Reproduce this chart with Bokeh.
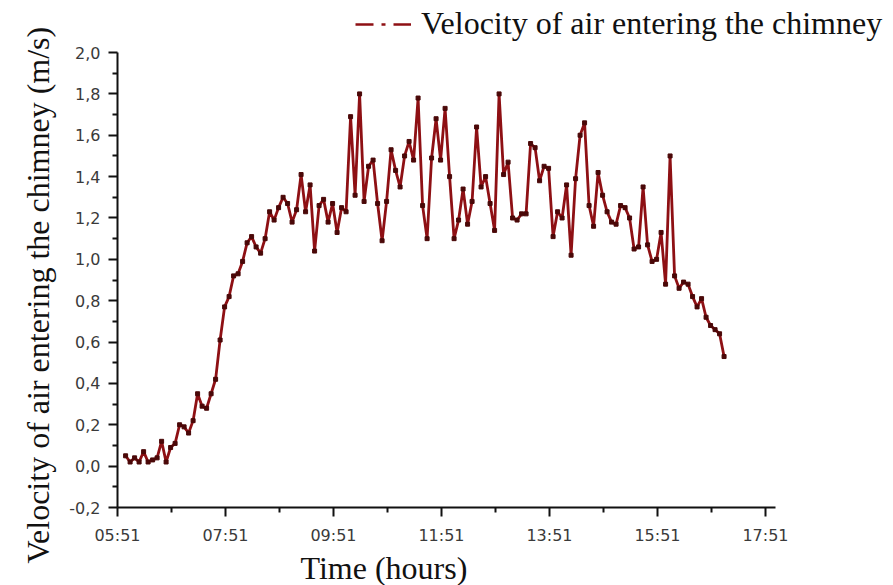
from bokeh.plotting import figure
from bokeh.models import (FixedTicker, CustomJSTickFormatter, Range1d, Legend,
                          LegendItem, Title)
from bokeh.embed import file_html
from bokeh.resources import INLINE

# ---------------- data ----------------
times = [
    "06:00", "06:05", "06:10", "06:15", "06:20", "06:25", "06:30", "06:35", "06:40", "06:45", "06:50", "06:55",
    "07:00", "07:05", "07:10", "07:15", "07:20", "07:25", "07:30", "07:35", "07:40", "07:45", "07:50", "07:55",
    "08:00", "08:05", "08:10", "08:15", "08:20", "08:25", "08:30", "08:35", "08:40", "08:45", "08:50", "08:55",
    "09:00", "09:05", "09:10", "09:15", "09:20", "09:25", "09:30", "09:35", "09:40", "09:45", "09:50", "09:55",
    "10:00", "10:05", "10:10", "10:15", "10:20", "10:25", "10:30", "10:35", "10:40", "10:45", "10:50", "10:55",
    "11:00", "11:05", "11:10", "11:15", "11:20", "11:25", "11:30", "11:35", "11:40", "11:45", "11:50", "11:55",
    "12:00", "12:05", "12:10", "12:15", "12:20", "12:25", "12:30", "12:35", "12:40", "12:45", "12:50", "12:55",
    "13:00", "13:05", "13:10", "13:15", "13:20", "13:25", "13:30", "13:35", "13:40", "13:45", "13:50", "13:55",
    "14:00", "14:05", "14:10", "14:15", "14:20", "14:25", "14:30", "14:35", "14:40", "14:45", "14:50", "14:55",
    "15:00", "15:05", "15:10", "15:15", "15:20", "15:25", "15:30", "15:35", "15:40", "15:45", "15:50", "15:55",
    "16:00", "16:05", "16:10", "16:15", "16:20", "16:25", "16:30", "16:35", "16:40", "16:45", "16:50", "16:55",
    "17:00", "17:05",
]

velocity = [
    0.05, 0.02, 0.04, 0.02, 0.07, 0.02, 0.03, 0.04, 0.12, 0.02, 0.09, 0.11,
    0.20, 0.19, 0.16, 0.22, 0.35, 0.29, 0.28, 0.35, 0.42, 0.61, 0.77, 0.82,
    0.92, 0.93, 0.99, 1.08, 1.11, 1.06, 1.03, 1.10, 1.23, 1.19, 1.25, 1.30,
    1.27, 1.18, 1.24, 1.41, 1.23, 1.36, 1.04, 1.26, 1.29, 1.18, 1.27, 1.13,
    1.25, 1.23, 1.69, 1.31, 1.80, 1.28, 1.45, 1.48, 1.27, 1.09, 1.28, 1.53,
    1.43, 1.35, 1.50, 1.57, 1.48, 1.78, 1.26, 1.10, 1.49, 1.68, 1.48, 1.73,
    1.40, 1.10, 1.19, 1.34, 1.17, 1.28, 1.64, 1.35, 1.40, 1.27, 1.14, 1.80,
    1.41, 1.47, 1.20, 1.19, 1.22, 1.22, 1.56, 1.54, 1.38, 1.45, 1.44, 1.11,
    1.23, 1.20, 1.36, 1.02, 1.39, 1.60, 1.66, 1.26, 1.16, 1.42, 1.31, 1.23,
    1.18, 1.17, 1.26, 1.25, 1.20, 1.05, 1.06, 1.35, 1.07, 0.99, 1.00, 1.13,
    0.88, 1.50, 0.92, 0.86, 0.89, 0.88, 0.82, 0.77, 0.81, 0.72, 0.68, 0.66,
    0.64, 0.53,
]

x_tick_labels = ["05:51", "07:51", "09:51", "11:51", "13:51", "15:51", "17:51"]
y_ticks = [-0.2, 0.0, 0.2, 0.4, 0.6, 0.8, 1.0, 1.2, 1.4, 1.6, 1.8, 2.0]

series_name = "Velocity of air entering the chimney"
y_title = "Velocity of air entering the chimney (m/s)"
x_title = "Time (hours)"


def to_min(s):
    h, m = s.split(":")
    return int(h) * 60 + int(m)


xs = [to_min(t) for t in times]
x_ticks = [to_min(t) for t in x_tick_labels]
x_minor = [t + 60 for t in x_ticks[:-1]]
y_minor = [round(v + 0.1, 1) for v in y_ticks[:-1]]

LINE = "#8E1014"
MARK = "#4A0808"

# The frame is extended over the top and right margins so that the legend
# (which sits above / right of the axes in the reference) is not clipped;
# axis lines are bounded to the real data extent.
p = figure(width=893, height=585, output_backend="svg", toolbar_location=None,
           x_range=Range1d(351, 1207.7), y_range=Range1d(-0.2, 2.242),
           min_border_left=117, min_border_right=5, min_border_top=2,
           min_border_bottom=74)
p.outline_line_color = None
p.xgrid.visible = False
p.ygrid.visible = False
p.background_fill_color = "white"
p.border_fill_color = "white"

p.line(xs, velocity, line_color=LINE, line_width=2.8)
p.scatter(xs, velocity, marker="square", size=4, fill_color=MARK, line_color=MARK)

# legend glyph (dash-dot); a single non-drawn point so the legend has a row
leg_r = p.line([xs[0]], [float("nan")], line_color=LINE, line_width=2.5,
               line_dash="18 8 4 8")
legend = Legend(items=[LegendItem(label=series_name, renderers=[leg_r])],
                location=(238, 465), orientation="vertical",
                glyph_width=56, glyph_height=20, label_standoff=10,
                padding=0, margin=0, border_line_alpha=0,
                background_fill_alpha=0,
                label_text_font="Liberation Serif", label_text_font_size="32px",
                label_text_color="#111111")
p.add_layout(legend, "center")

# axes
for ax in (p.xaxis[0], p.yaxis[0]):
    ax.axis_line_width = 2
    ax.axis_line_color = "#111111"
    ax.major_tick_line_width = 2
    ax.major_tick_line_color = "#111111"
    ax.minor_tick_line_width = 2
    ax.minor_tick_line_color = "#111111"
    ax.major_tick_in = 0
    ax.major_tick_out = 9
    ax.minor_tick_in = 0
    ax.minor_tick_out = 5
    ax.major_label_text_font = "DejaVu Sans"
    ax.major_label_text_font_size = "16px"
    ax.major_label_text_color = "#3a3a3a"

p.xaxis.bounds = (351, 1082)
p.yaxis.bounds = (-0.2, 2.0)

p.xaxis.ticker = FixedTicker(ticks=x_ticks, minor_ticks=x_minor)
p.xaxis.formatter = CustomJSTickFormatter(code="""
const h = Math.floor(tick / 60), m = Math.round(tick % 60);
return String(h).padStart(2, '0') + ':' + String(m).padStart(2, '0');
""")
p.xaxis.major_label_standoff = 9

p.yaxis.ticker = FixedTicker(ticks=y_ticks, minor_ticks=y_minor)
p.yaxis.formatter = CustomJSTickFormatter(code="return tick.toFixed(1).replace('.', ',');")
p.yaxis.major_label_standoff = 8

# y title: placed as a side title so it can start below the frame bottom
yt = Title(text=y_title, align="left", offset=-56, standoff=22,
           text_font="Liberation Serif", text_font_size="32px",
           text_font_style="normal", text_color="#111111")
p.add_layout(yt, "left")

xt = Title(text=x_title, align="left", offset=183, standoff=0,
           text_font="Liberation Serif", text_font_size="32px",
           text_font_style="normal", text_color="#111111")
p.add_layout(xt, "below")

open("out.html", "w").write(file_html(p, INLINE))
